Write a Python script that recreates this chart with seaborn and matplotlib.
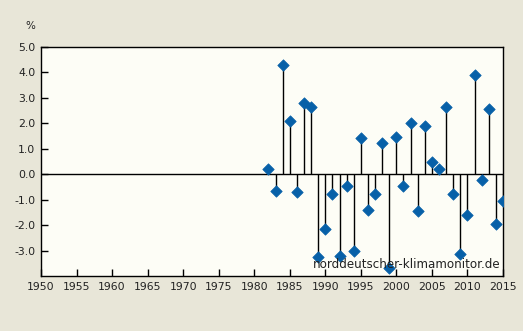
import matplotlib
matplotlib.use("Agg")
import matplotlib.pyplot as plt
import seaborn as sns
import pandas as pd

years = list(range(1982, 2016))
values = [0.20, -0.64, 4.28, 2.11, -0.70, 2.78, 2.66, -3.24, -2.14, -0.76,
          -3.20, -0.47, -3.00, 1.44, -1.39, -0.79, 1.21, -3.69, 1.48, -0.47,
          2.03, -1.43, 1.88, 0.50, 0.22, 2.66, -0.76, -3.12, -1.59, 3.88,
          -0.21, 2.55, -1.94, -1.04]
xticks = list(range(1950, 2016, 5))
yticks = [-3.0, -2.0, -1.0, 0.0, 1.0, 2.0, 3.0, 4.0, 5.0]

df = pd.DataFrame({"year": years, "value": values})

sns.set_theme(style="white")
plt.rcParams['font.family'] = ['DejaVu Sans']

fig = plt.figure(figsize=(5.23, 3.31), dpi=100, facecolor="#e8e6d8")
ax = fig.add_axes([41/523, 1-276/331, 462/523, 229/331])
ax.set_facecolor("#fdfdf6")

ax.axhline(0, color="black", lw=1.0, zorder=1)
ax.vlines(df["year"], 0, df["value"], color="black", lw=1.0, zorder=2)
sns.scatterplot(data=df, x="year", y="value", marker="D", s=34,
                color="#0760a8", edgecolor="#0760a8", linewidth=0.5,
                ax=ax, zorder=3, legend=False)

ax.set_xlim(1950, 2015)
ax.set_ylim(-4.0, 5.0)
ax.set_xticks(xticks)
ax.set_xticklabels([str(x) for x in xticks])
ax.set_yticks(yticks)
ax.set_yticklabels([f"{y:.1f}" for y in yticks])
ax.set_xlabel("")
ax.set_ylabel("")
for s in ax.spines.values():
    s.set_color("black")
    s.set_linewidth(1.0)
ax.tick_params(axis="both", direction="in", length=5, width=1, color="black",
               labelsize=7.8, labelcolor="#222222", bottom=True, left=True,
               top=False, right=False, pad=4)
ax.text(0.995, 0.02, "norddeutscher-klimamonitor.de", transform=ax.transAxes,
        ha="right", va="bottom", fontsize=8.6, color="#222222", zorder=5)
fig.text(30/523, 1-26/331, "%", ha="center", va="center", fontsize=7.5, color="#222222")

fig.savefig("out.png", dpi=100, facecolor=fig.get_facecolor())
